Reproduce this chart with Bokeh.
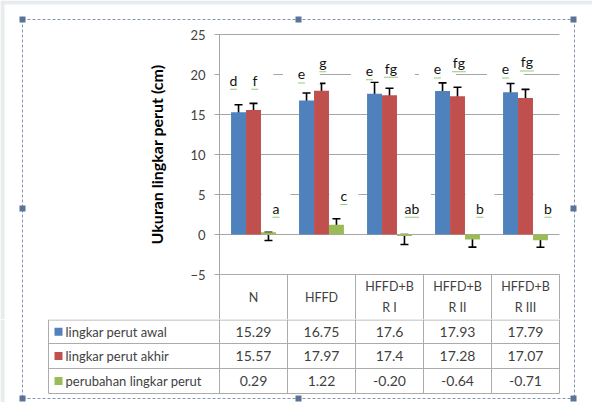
from bokeh.plotting import figure
from bokeh.models import Range1d, Whisker, TeeHead, FixedTicker, ColumnDataSource
from bokeh.layouts import column
from bokeh.core.properties import value
from bokeh.embed import file_html
from bokeh.resources import INLINE

# ---------------- data ----------------
groups = ["N", "HFFD", "HFFD+B\nR I", "HFFD+B\nR II", "HFFD+B\nR III"]
series = ["lingkar perut awal", "lingkar perut akhir", "perubahan lingkar perut"]
awal = [15.29, 16.75, 17.6, 17.93, 17.79]
akhir = [15.57, 17.97, 17.4, 17.28, 17.07]
perubahan = [0.29, 1.22, -0.20, -0.64, -0.71]
sd_awal = [0.92, 0.93, 1.44, 1.02, 1.08]
sd_akhir = [0.82, 0.92, 0.88, 1.13, 1.07]
perubahan_err_low = [-0.75, 0.16, -1.25, -1.58, -1.60]
perubahan_err_high = [0.29, 1.96, 0.00, -0.12, -0.12]
letters_awal = ["d", "e", "e", "e", "e"]
letters_akhir = ["f", "g", "fg", "fg", "fg"]
letters_perubahan = ["a", "c", "ab", "b", "b"]
letter_y_awal = [19.3, 20.1, 20.5, 20.7, 20.7]
letter_y_akhir = [19.3, 21.5, 20.8, 21.5, 21.6]
letter_y_perubahan = [3.3, 4.9, 3.3, 3.3, 3.3]
y_ticks = [-5, 0, 5, 10, 15, 20, 25]

colors = ["#4f81bd", "#c0504d", "#9bbb59"]
FONT = value("Lato")
GRID = "#a6a6a6"
TXT = "#3f3f3f"
TL = "#ababab"
DASH = "#8496b0"
HND = "#5b7397"
FRAME = "#e9ecef"

# ---------------- layout helpers (pixel positions of the reference) ----------------
W, H1, H2 = 592, 319, 83
def X(ref_px):
    return (ref_px - 219) / 68.0
YTOP = 25 + 34 / 8.0          # data value at the top edge of the chart canvas
def Y(ref_py):
    return YTOP - ref_py / 8.0

n = len(groups)
centers = [i + 0.5 for i in range(n)]
offs = [-0.22, 0.0, 0.22]
bw = 0.22
x_range = Range1d(X(0), X(W))

# ---------------- chart ----------------
p = figure(width=W, height=H1, x_range=x_range, y_range=Range1d(Y(H1), YTOP),
           x_axis_location=None, output_backend="svg", toolbar_location=None,
           min_border=0, min_border_left=0, min_border_right=0,
           min_border_top=0, min_border_bottom=0)
p.outline_line_color = None
p.background_fill_color = "white"
p.border_fill_color = "white"
p.xgrid.visible = False
p.ygrid.visible = False

# window edge
p.quad(left=[X(0), X(0)], right=[X(W), X(4)], top=[YTOP, YTOP], bottom=[Y(4), Y(H1)],
       fill_color=FRAME, line_color=None)

# gridlines
gy = [v for v in y_ticks if v > -5]
p.segment(x0=[0] * len(gy), x1=[n] * len(gy), y0=gy, y1=gy, line_color=GRID, line_width=1)

# white label boxes
def boxes(xs, ys, labs, hpx, base, per):
    p.rect(x=xs, y=ys, width=[base + per * len(s) for s in labs], height=hpx,
           width_units="screen", height_units="screen",
           fill_color="white", line_color=None)

lx_awal = [c + offs[0] - 0.075 for c in centers]
lx_akhir = [c + offs[1] + 0.02 for c in centers]
lx_per = [c + offs[2] + 0.11 for c in centers]
boxes(lx_awal, letter_y_awal, letters_awal, 22, 26, 11)
boxes(lx_akhir, letter_y_akhir, letters_akhir, 22, 26, 11)
boxes(lx_per, letter_y_perubahan, letters_perubahan, 30, 20, 9)

# bars
vals = [awal, akhir, perubahan]
for k in range(3):
    xs = [c + offs[k] for c in centers]
    p.vbar(x=xs, top=vals[k], bottom=0, width=bw, fill_color=colors[k], line_color=None)

# error bars
def whisk(xs, lo, hi):
    src = ColumnDataSource(dict(x=xs, lo=lo, hi=hi))
    w = Whisker(base="x", lower="lo", upper="hi", source=src, line_color="black", line_width=1.6,
                upper_head=TeeHead(size=8, line_color="black", line_width=1.6),
                lower_head=TeeHead(size=8, line_color="black", line_width=1.6))
    p.add_layout(w)

whisk([c + offs[0] for c in centers], [v - s for v, s in zip(awal, sd_awal)], [v + s for v, s in zip(awal, sd_awal)])
whisk([c + offs[1] for c in centers], [v - s for v, s in zip(akhir, sd_akhir)], [v + s for v, s in zip(akhir, sd_akhir)])
whisk([c + offs[2] for c in centers], perubahan_err_low, perubahan_err_high)

# letters (with faint green spell-check underline)
for xs, ys, labs in [(lx_awal, letter_y_awal, letters_awal), (lx_akhir, letter_y_akhir, letters_akhir),
                     (lx_per, letter_y_perubahan, letters_perubahan)]:
    p.rect(x=xs, y=[yy - 1.15 for yy in ys], width=[7 * len(s) for s in labs], height=1,
           width_units="screen", height_units="screen", fill_color="#6db33f", fill_alpha=0.7,
           line_color=None)
    p.text(x=xs, y=ys, text=labs, text_font=FONT, text_font_size="14px", text_color="#111111",
           text_align="center", text_baseline="middle")

# y axis
ax = p.yaxis[0]
ax.fixed_location = 0
ax.bounds = (-5, 25)
ax.ticker = FixedTicker(ticks=y_ticks)
ax.axis_line_color = GRID
ax.major_tick_line_color = GRID
ax.major_tick_out = 5
ax.major_tick_in = 0
ax.minor_tick_line_color = None
ax.major_label_standoff = 9
ax.major_label_text_font = "Lato"
ax.major_label_text_font_size = "13px"
ax.major_label_text_color = TXT
ax.axis_label = "Ukuran lingkar perut (cm)"
ax.axis_label_text_font = "Lato"
ax.axis_label_text_font_style = "bold"
ax.axis_label_text_font_size = "16px"
ax.axis_label_text_color = "black"
ax.axis_label_standoff = 21

# data table header row (inside chart canvas)
yh0, yh1 = -5, Y(319)
p.segment(x0=[0], x1=[n], y0=[yh0], y1=[yh0], line_color=TL, line_width=1)
p.segment(x0=list(range(n + 1)), x1=list(range(n + 1)), y0=[yh0] * (n + 1), y1=[yh1] * (n + 1),
          line_color=TL, line_width=1)
p.text(x=centers, y=[(yh0 + yh1) / 2] * n, text=groups, text_font=FONT, text_font_size="12.5px",
       text_color=TXT, text_align="center", text_baseline="middle", text_line_height=1.4)

# dashed selection frame (top part)
ytop = Y(19)
p.segment(x0=[X(22), X(22), X(574)], x1=[X(574), X(22), X(574)],
          y0=[ytop, ytop, ytop], y1=[ytop, Y(H1 + 2), Y(H1 + 2)], line_color=DASH, line_dash="3 2", line_width=1)
p.rect(x=[X(22), X(298), X(573), X(22), X(573)], y=[ytop, ytop, ytop, Y(208), Y(208)], width=6, height=6,
       width_units="screen", height_units="screen", fill_color=HND, line_color=None)

# ---------------- data table rows ----------------
t = figure(width=W, height=H2, x_range=x_range, y_range=Range1d(H2, 0),
           x_axis_location=None, y_axis_location=None, output_backend="svg", toolbar_location=None,
           min_border=0, min_border_left=0, min_border_right=0, min_border_top=0, min_border_bottom=0)
t.outline_line_color = None
t.xgrid.visible = False
t.ygrid.visible = False
t.background_fill_color = "white"
t.border_fill_color = "white"
t.quad(left=[X(0)], right=[X(4)], top=[0], bottom=[H2], fill_color=FRAME, line_color=None)

rows = [0.5, 24, 49, 74]
t.segment(x0=[X(48)] * 4, x1=[n] * 4, y0=rows, y1=rows, line_color=TL, line_width=1)
t.segment(x0=list(range(n + 1)) + [X(48)], x1=list(range(n + 1)) + [X(48)],
          y0=[0] * (n + 2), y1=[rows[-1]] * (n + 2), line_color=TL, line_width=1)

row_text = [[f"{v:g}" for v in awal], [f"{v:g}" for v in akhir], [f"{v:.2f}" for v in perubahan]]
for r in range(3):
    yc = (rows[r] + rows[r + 1]) / 2
    t.text(x=centers, y=[yc] * n, text=row_text[r], text_font=FONT, text_font_size="14px",
           text_color=TXT, text_align="center", text_baseline="middle")
    t.rect(x=[X(58)], y=[yc], width=8, height=8, width_units="screen", height_units="screen",
           fill_color=colors[r], line_color=None)
    t.text(x=[X(65)], y=[yc], text=[series[r]], text_font=FONT, text_font_size="13px",
           text_color=TXT, text_align="left", text_baseline="middle")

# dashed frame (bottom part)
ybot = 79
t.segment(x0=[X(22), X(574), X(22)], x1=[X(22), X(574), X(574)], y0=[0, 0, ybot], y1=[ybot, ybot, ybot],
          line_color=DASH, line_dash="3 2", line_width=1)
t.rect(x=[X(22), X(298), X(573)], y=[ybot] * 3, width=6, height=6,
       width_units="screen", height_units="screen", fill_color=HND, line_color=None)

layout = column(p, t, spacing=0)
open("out.html", "w").write(file_html(layout, INLINE))
